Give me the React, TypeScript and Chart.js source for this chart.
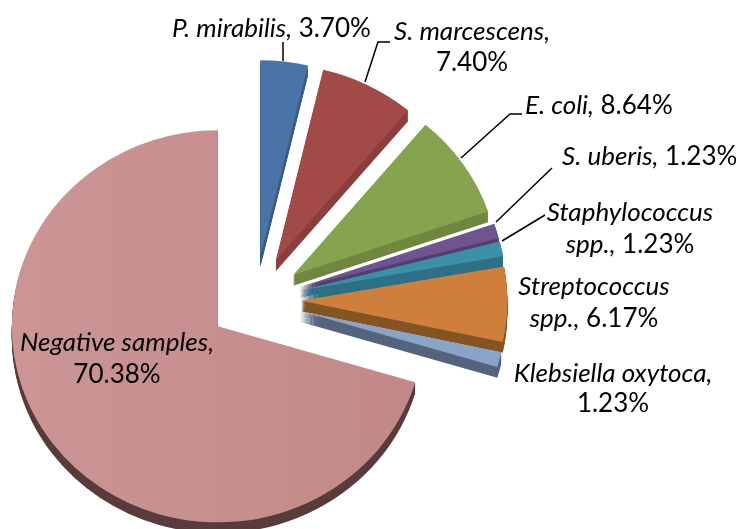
import React, { useEffect, useRef } from "react";
import { Chart, registerables } from "chart.js";

Chart.register(...registerables);

const categories = ["P. mirabilis", "S. marcescens", "E. coli", "S. uberis", "Staphylococcus spp.", "Streptococcus spp.", "Klebsiella oxytoca", "Negative samples"];
const shares = [3.7, 7.4, 8.64, 1.23, 1.23, 6.17, 1.23, 70.38];
const faceColors = ["#4a74a6", "#a24a48", "#86a34e", "#6f5590", "#3c8fa8", "#cf7f3c", "#8aa3c9", "#c88f8f"];
const wallColors = ["#3a5c85", "#8a3f3d", "#708741", "#523f6c", "#2e7186", "#845524", "#55647d", "#5a3c3c"];

type Run = [string, boolean];
type Label = { x: number; y: number; align: "left" | "center"; runs: Run[] };
const labels: Label[] = [
  { x: 172, y: 37, align: "left", runs: [["P. mirabilis,", true], [" 3.70%", false]] },
  { x: 472, y: 40, align: "center", runs: [["S. marcescens,", true]] },
  { x: 472, y: 71, align: "center", runs: [["7.40%", false]] },
  { x: 525, y: 114, align: "left", runs: [["E. coli,", true], [" 8.64%", false]] },
  { x: 562, y: 165, align: "left", runs: [["S. uberis,", true], [" 1.23%", false]] },
  { x: 630, y: 221, align: "center", runs: [["Staphylococcus", true]] },
  { x: 630, y: 253, align: "center", runs: [["spp.,", true], [" 1.23%", false]] },
  { x: 594, y: 295, align: "center", runs: [["Streptococcus", true]] },
  { x: 594, y: 327, align: "center", runs: [["spp.,", true], [" 6.17%", false]] },
  { x: 613, y: 382, align: "center", runs: [["Klebsiella oxytoca,", true]] },
  { x: 613, y: 412, align: "center", runs: [["1.23%", false]] },
  { x: 117, y: 351, align: "center", runs: [["Negative samples,", true]] },
  { x: 117, y: 383, align: "center", runs: [["70.38%", false]] },
];
const leaders: number[][][] = [
  [[283, 61], [283, 42]],
  [[365, 82], [378, 42], [390, 42]],
  [[461, 158], [510, 114], [522, 114]],
  [[496, 222], [552, 168]],
  [[502, 241], [545, 215]],
];

const EXPLODE = 45;
const RADIUS = 200;
const DEPTH = 11;
const CENTER_X = 255;
const CENTER_Y = 300;
const SCALE_X = 1.03;
const SCALE_Y = 0.98;
const FONT = "Lato, 'Open Sans', sans-serif";
const FONT_SIZE = 26;

const piePlugin = {
  id: "pie3d",
  afterDatasetsUpdate(chart: any) {
    // Pull every slice out along its own middle angle.
    for (const arc of chart.getDatasetMeta(0).data) {
      const mid = (arc.startAngle + arc.endAngle) / 2;
      arc.x += Math.cos(mid) * EXPLODE;
      arc.y += Math.sin(mid) * EXPLODE;
    }
  },
  beforeDatasetsDraw(chart: any) {
    const ctx = chart.ctx;
    const arcs = chart.getDatasetMeta(0).data;
    // Slight tilt of the whole pie: wider than it is tall.
    ctx.save();
    ctx.translate(CENTER_X, CENTER_Y);
    ctx.scale(SCALE_X, SCALE_Y);
    ctx.translate(-CENTER_X, -CENTER_Y);
    for (let k = DEPTH; k >= 1; k--) {
      arcs.forEach((arc: any, i: number) => {
        const wall = Object.create(arc);
        wall.options = { ...arc.options, backgroundColor: wallColors[i], borderWidth: 0 };
        ctx.save();
        ctx.translate(0, k);
        wall.draw(ctx);
        ctx.restore();
      });
    }
  },
  afterDatasetsDraw(chart: any) {
    const ctx = chart.ctx;
    ctx.restore();
    ctx.save();
    ctx.strokeStyle = "#000";
    ctx.lineWidth = 1.5;
    for (const line of leaders) {
      ctx.beginPath();
      line.forEach(([x, y], i) => (i ? ctx.lineTo(x, y) : ctx.moveTo(x, y)));
      ctx.stroke();
    }
    ctx.fillStyle = "#000";
    ctx.textBaseline = "alphabetic";
    ctx.textAlign = "left";
    const fontOf = (it: boolean) => `${it ? "italic " : ""}${FONT_SIZE}px ${FONT}`;
    for (const l of labels) {
      let width = 0;
      for (const [t, it] of l.runs) {
        ctx.font = fontOf(it);
        width += ctx.measureText(t).width;
      }
      let x = l.align === "center" ? l.x - width / 2 : l.x;
      for (const [t, it] of l.runs) {
        ctx.font = fontOf(it);
        ctx.fillText(t, x, l.y);
        x += ctx.measureText(t).width;
      }
    }
    ctx.restore();
  },
};

export default function App() {
  const ref = useRef<HTMLCanvasElement>(null);
  useEffect(() => {
    if (!ref.current) return;
    const c2d = ref.current.getContext("2d") as CanvasRenderingContext2D;
    const negativeFill = c2d.createLinearGradient(10, 0, 420, 0);
    negativeFill.addColorStop(0, "#cc9696");
    negativeFill.addColorStop(1, "#c28888");
    const chart = new Chart(ref.current, {
      type: "pie",
      data: {
        labels: categories,
        datasets: [{
          data: shares,
          backgroundColor: faceColors.map((c, i) => (i === faceColors.length - 1 ? negativeFill : c)),
          borderWidth: 0,
        }],
      },
      options: {
        responsive: false,
        animation: false,
        radius: RADIUS,
        layout: { padding: { left: 0, right: 736 - 2 * CENTER_X, top: 2 * CENTER_Y - 529, bottom: 0 } },
        plugins: { legend: { display: false }, tooltip: { enabled: false } },
      } as any,
      plugins: [piePlugin],
    });
    return () => chart.destroy();
  }, []);
  return (
    <div style={{ position: "absolute", left: 0, top: 0, width: 736, height: 529, background: "#fff" }}>
      <canvas ref={ref} width={736} height={529} style={{ display: "block" }} />
    </div>
  );
}
